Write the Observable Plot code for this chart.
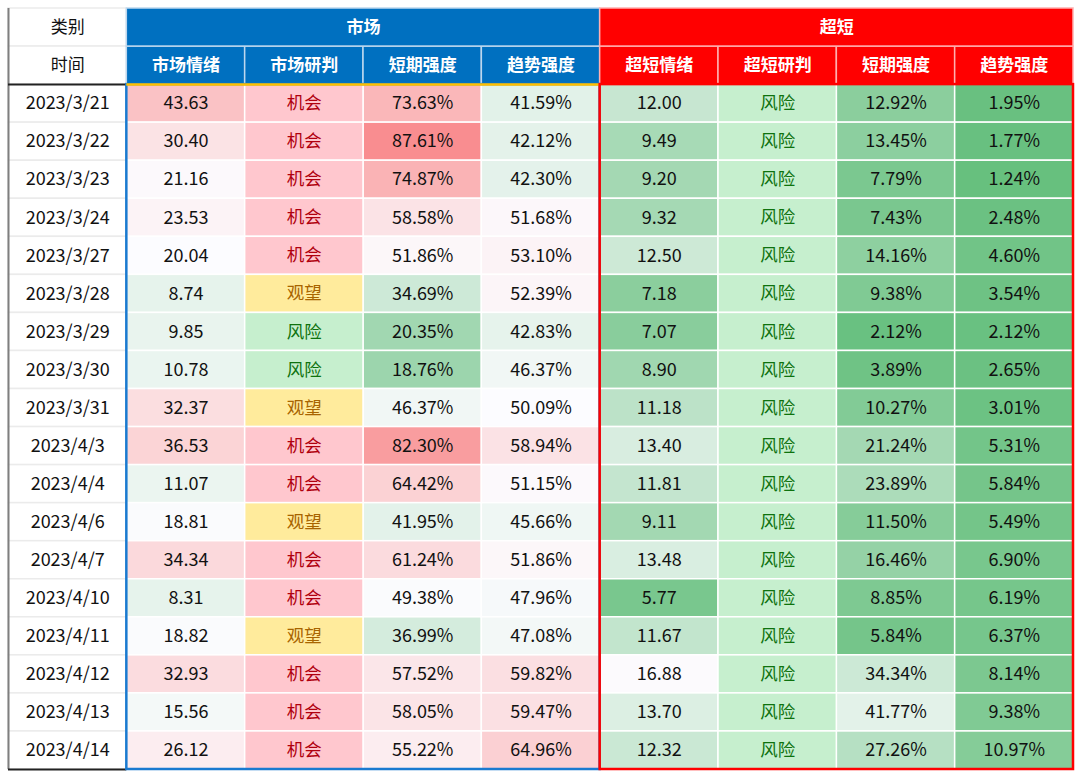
<!DOCTYPE html>
<html><head><meta charset="utf-8">
<script src="https://cdn.jsdelivr.net/npm/d3@7"></script>
<script src="https://cdn.jsdelivr.net/npm/@observablehq/plot@0.6"></script>
<style>body{margin:0;background:#fff;}</style>
</head><body><div id="chart"></div>
<script>
// ---- data ----
const dates = ["2023/3/21","2023/3/22","2023/3/23","2023/3/24","2023/3/27","2023/3/28","2023/3/29","2023/3/30","2023/3/31","2023/4/3","2023/4/4","2023/4/6","2023/4/7","2023/4/10","2023/4/11","2023/4/12","2023/4/13","2023/4/14"];
const mktSentiment = [43.63,30.40,21.16,23.53,20.04,8.74,9.85,10.78,32.37,36.53,11.07,18.81,34.34,8.31,18.82,32.93,15.56,26.12];
const mktJudgement = ["机会","机会","机会","机会","机会","观望","风险","风险","观望","机会","机会","观望","机会","机会","观望","机会","机会","机会"];
const mktShort = [73.63,87.61,74.87,58.58,51.86,34.69,20.35,18.76,46.37,82.30,64.42,41.95,61.24,49.38,36.99,57.52,58.05,55.22];
const mktTrend = [41.59,42.12,42.30,51.68,53.10,52.39,42.83,46.37,50.09,58.94,51.15,45.66,51.86,47.96,47.08,59.82,59.47,64.96];
const ultraSentiment = [12.00,9.49,9.20,9.32,12.50,7.18,7.07,8.90,11.18,13.40,11.81,9.11,13.48,5.77,11.67,16.88,13.70,12.32];
const ultraJudgement = ["风险","风险","风险","风险","风险","风险","风险","风险","风险","风险","风险","风险","风险","风险","风险","风险","风险","风险"];
const ultraShort = [12.92,13.45,7.79,7.43,14.16,9.38,2.12,3.89,10.27,21.24,23.89,11.50,16.46,8.85,5.84,34.34,41.77,27.26];
const ultraTrend = [1.95,1.77,1.24,2.48,4.60,3.54,2.12,2.65,3.01,5.31,5.84,5.49,6.90,6.19,6.37,8.14,9.38,10.97];

const groupNames = ["市场","超短"];
const mktHeaders = ["市场情绪","市场研判","短期强度","趋势强度"];
const ultraHeaders = ["超短情绪","超短研判","短期强度","趋势强度"];
const firstHeaders = ["类别","时间"];

// ---- build table ----
const columns = [
  {group:0, name:mktHeaders[0], values:mktSentiment, kind:"mktScore"},
  {group:0, name:mktHeaders[1], values:mktJudgement, kind:"judge"},
  {group:0, name:mktHeaders[2], values:mktShort, kind:"pct"},
  {group:0, name:mktHeaders[3], values:mktTrend, kind:"pct"},
  {group:1, name:ultraHeaders[0], values:ultraSentiment, kind:"ultraScore"},
  {group:1, name:ultraHeaders[1], values:ultraJudgement, kind:"judge"},
  {group:1, name:ultraHeaders[2], values:ultraShort, kind:"pct"},
  {group:1, name:ultraHeaders[3], values:ultraTrend, kind:"pct"}
];
const headRows = firstHeaders.length;
const nRows = dates.length + headRows;
const nCols = columns.length + 1;

// normalise each value onto [-1, 0, 1] (green / white / red)
function norm(kind, v) {
  let lo, mid, hi;
  if (kind === "pct") { lo = 0; mid = 50; hi = 100; }
  else if (kind === "mktScore") { lo = -60; mid = 20; hi = 80; }
  else { lo = 4; mid = 16.3; hi = 60; }
  return v < mid ? (v - mid) / (mid - lo) : (v - mid) / (hi - mid);
}
const judgeStyle = {
  "机会": {fill:"#FFC7CE", text:"#B0000F"},
  "观望": {fill:"#FFEB9C", text:"#A86400"},
  "风险": {fill:"#C6EFCE", text:"#0E720E"}
};

const heat = [], judge = [], dateCells = [], headFirst = [], headBlue = [], headRed = [];
columns.forEach((col, i) => {
  const c = i + 1;
  col.values.forEach((v, r) => {
    const cell = {x1:c, x2:c+1, y1:r+headRows, y2:r+headRows+1};
    if (col.kind === "judge") judge.push({...cell, label:v});
    else heat.push({...cell, t:norm(col.kind, v), label: col.kind === "pct" ? v.toFixed(2) + "%" : v.toFixed(2)});
  });
  (col.group === 0 ? headBlue : headRed).push({x1:c, x2:c+1, y1:1, y2:2, label:col.name});
});
dates.forEach((d, r) => dateCells.push({x1:0, x2:1, y1:r+headRows, y2:r+headRows+1, label:d}));
firstHeaders.forEach((h, r) => headFirst.push({x1:0, x2:1, y1:r, y2:r+1, label:h}));
const groupSpans = groupNames.map((g, gi) => {
  const idx = columns.map((c, i) => c.group === gi ? i + 1 : null).filter(d => d !== null);
  return {x1:d3.min(idx), x2:d3.max(idx) + 1, y1:0, y2:1, label:g};
});
headBlue.push(groupSpans[0]);
headRed.push(groupSpans[1]);
const blueFrame = [{x1:groupSpans[0].x1, x2:groupSpans[0].x2, y1:headRows, y2:nRows}];
const redFrame = [{x1:groupSpans[1].x1, x2:groupSpans[1].x2, y1:headRows, y2:nRows}];

const F = "'Noto Sans CJK SC','Noto Sans',sans-serif";
const cx = d => (d.x1 + d.x2) / 2, cy = d => (d.y1 + d.y2) / 2;
const pos = {x1:"x1", x2:"x2", y1:"y1", y2:"y2"};

const chart = Plot.plot({
  width:1080, height:777,
  marginLeft:8, marginRight:7, marginTop:8, marginBottom:8,
  x:{type:"linear", domain:[0, nCols], axis:null},
  y:{type:"linear", domain:[0, nRows], reverse:true, axis:null},
  color:{type:"linear", domain:[-1,0,1], range:["#63BE7B","#FCFCFF","#F8696B"], interpolate:"rgb", clamp:true},
  style:{fontFamily:F, background:"white"},
  marks:[
    Plot.rect(heat, {...pos, fill:"t", stroke:"white", strokeWidth:1.5}),
    Plot.rect(judge, {...pos, fill:d => judgeStyle[d.label].fill, stroke:"white", strokeWidth:1.5}),
    Plot.rect(dateCells, {...pos, fill:"white", stroke:"#EBEBEB", strokeWidth:1.5}),
    Plot.rect(headFirst, {...pos, fill:"white", stroke:"#EBEBEB", strokeWidth:1.5}),
    Plot.rect(headBlue, {...pos, fill:"#0070C0", stroke:"#BDD7EE", strokeWidth:1.5}),
    Plot.rect(headRed, {...pos, fill:"#FF0000", stroke:"#FFB0B0", strokeWidth:1.5}),
    // borders
    Plot.ruleX([0], {y1:0, y2:nRows, stroke:"#7F7F7F", strokeWidth:2}),
    Plot.ruleY([headRows, nRows], {x1:0, x2:1, stroke:"#222", strokeWidth:2}),
    Plot.rect(blueFrame, {...pos, fill:"none", stroke:"#1A7AD0", strokeWidth:2.5}),
    Plot.ruleY([headRows], {x1:groupSpans[0].x1, x2:groupSpans[0].x2, stroke:"#FFC000", strokeWidth:2.5}),
    Plot.rect(redFrame, {...pos, fill:"none", stroke:"#FF0000", strokeWidth:2.5}),
    // texts
    Plot.text(heat, {x:cx, y:cy, text:"label", fill:"#111", fontSize:18}),
    Plot.text(judge, {x:cx, y:cy, text:"label", fill:d => judgeStyle[d.label].text, fontSize:17.5}),
    Plot.text(dateCells, {x:cx, y:cy, text:"label", fill:"#111", fontSize:18}),
    Plot.text(headFirst, {x:cx, y:cy, text:"label", fill:"#111", fontSize:17}),
    Plot.text(headBlue.concat(headRed), {x:cx, y:cy, text:"label", fill:"white", fontSize:17, fontWeight:"bold"})
  ]
});
document.getElementById("chart").appendChild(chart);
</script>
</body></html>
